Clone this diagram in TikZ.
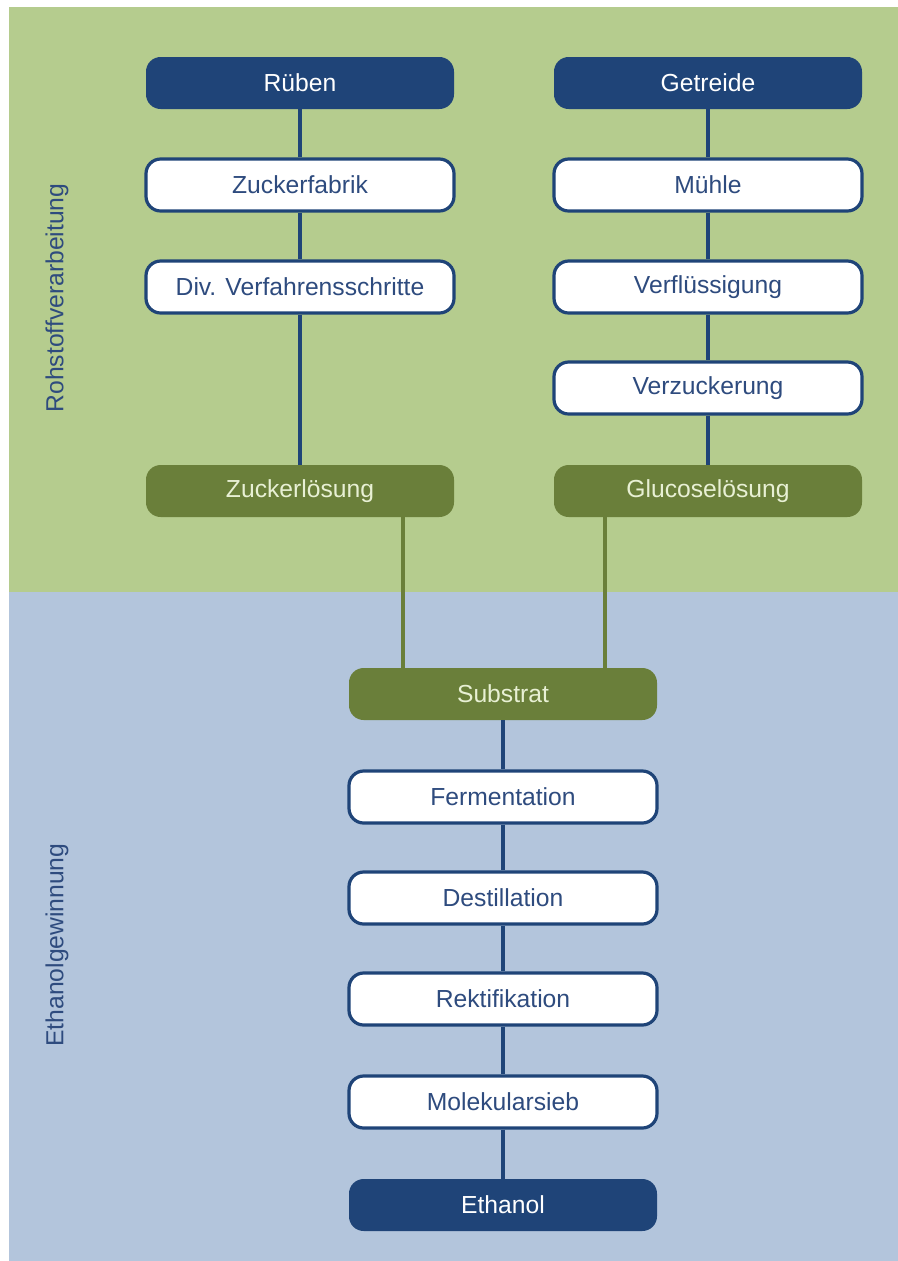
\documentclass[tikz,border=0pt]{standalone}
\usepackage{fontspec}
\setmainfont{Liberation Sans}
\usepackage{tikz}
\usetikzlibrary{positioning}
\definecolor{bggreen}{RGB}{181,204,142}
\definecolor{bgblue}{RGB}{179,197,220}
\definecolor{navy}{RGB}{31,68,120}
\definecolor{navytext}{RGB}{46,75,126}
\definecolor{darkgreen}{RGB}{106,127,58}
\definecolor{paletext}{RGB}{232,240,212}

\begin{document}
\begin{tikzpicture}[line cap=butt,line join=round,x=0.75pt,y=-0.75pt,
  box/.style={rounded corners=11pt,minimum width=231pt,minimum height=39pt,inner sep=0pt,
    font=\fontsize{18.5}{22}\selectfont},
  endbox/.style={box,fill=navy,text=white},
  stepbox/.style={box,fill=white,draw=navy,line width=2.4pt,text=navytext},
  resbox/.style={box,fill=darkgreen,text=paletext},
  nline/.style={draw=navy,line width=2.6pt},
  gline/.style={draw=darkgreen,line width=3.4pt},
  side/.style={rotate=90,text=navytext,font=\fontsize{18.5}{22}\selectfont}]
\useasboundingbox (0,0) rectangle (898,1261);
\fill[bggreen] (9,7) rectangle (898,592);
\fill[bgblue] (9,592) rectangle (898,1261);

\node[side] (lroh) at (57,298) {Rohstoffverarbeitung};
\node[side] (leth) at (57,945) {Ethanolgewinnung};

\node[endbox] (rb) at (300,83) {Rüben};
\node[stepbox] (zf) at (300,185) {Zuckerfabrik};
\node[stepbox] (dv) at (300,287) {Div. Verfahrensschritte};
\node[resbox] (zl) at (300,491) {Zuckerlösung};

\node[endbox] (gt) at (708,83) {Getreide};
\node[stepbox] (mh) at (708,185) {Mühle};
\node[stepbox] (vf) at (708,287) {Verflüssigung};
\node[stepbox] (vz) at (708,388) {Verzuckerung};
\node[resbox] (gl) at (708,491) {Glucoselösung};

\node[resbox] (sb) at (503,694) {Substrat};
\node[stepbox] (fm) at (503,797) {Fermentation};
\node[stepbox] (ds) at (503,898) {Destillation};
\node[stepbox] (rk) at (503,999) {Rektifikation};
\node[stepbox] (ms) at (503,1102) {Molekularsieb};
\node[endbox] (et) at (503,1205) {Ethanol};

\coordinate (sx1) at (403,0);
\coordinate (sx2) at (605,0);

\draw[nline] (rb) -- (zf);
\draw[nline] (zf) -- (dv);
\draw[nline] (dv) -- (zl);
\draw[nline] (gt) -- (mh);
\draw[nline] (mh) -- (vf);
\draw[nline] (vf) -- (vz);
\draw[nline] (vz) -- (gl);
\draw[gline] (zl.south -| sx1) -- (sb.north -| sx1);
\draw[gline] (gl.south -| sx2) -- (sb.north -| sx2);
\draw[nline] (sb) -- (fm);
\draw[nline] (fm) -- (ds);
\draw[nline] (ds) -- (rk);
\draw[nline] (rk) -- (ms);
\draw[nline] (ms) -- (et);
\end{tikzpicture}
\end{document}
